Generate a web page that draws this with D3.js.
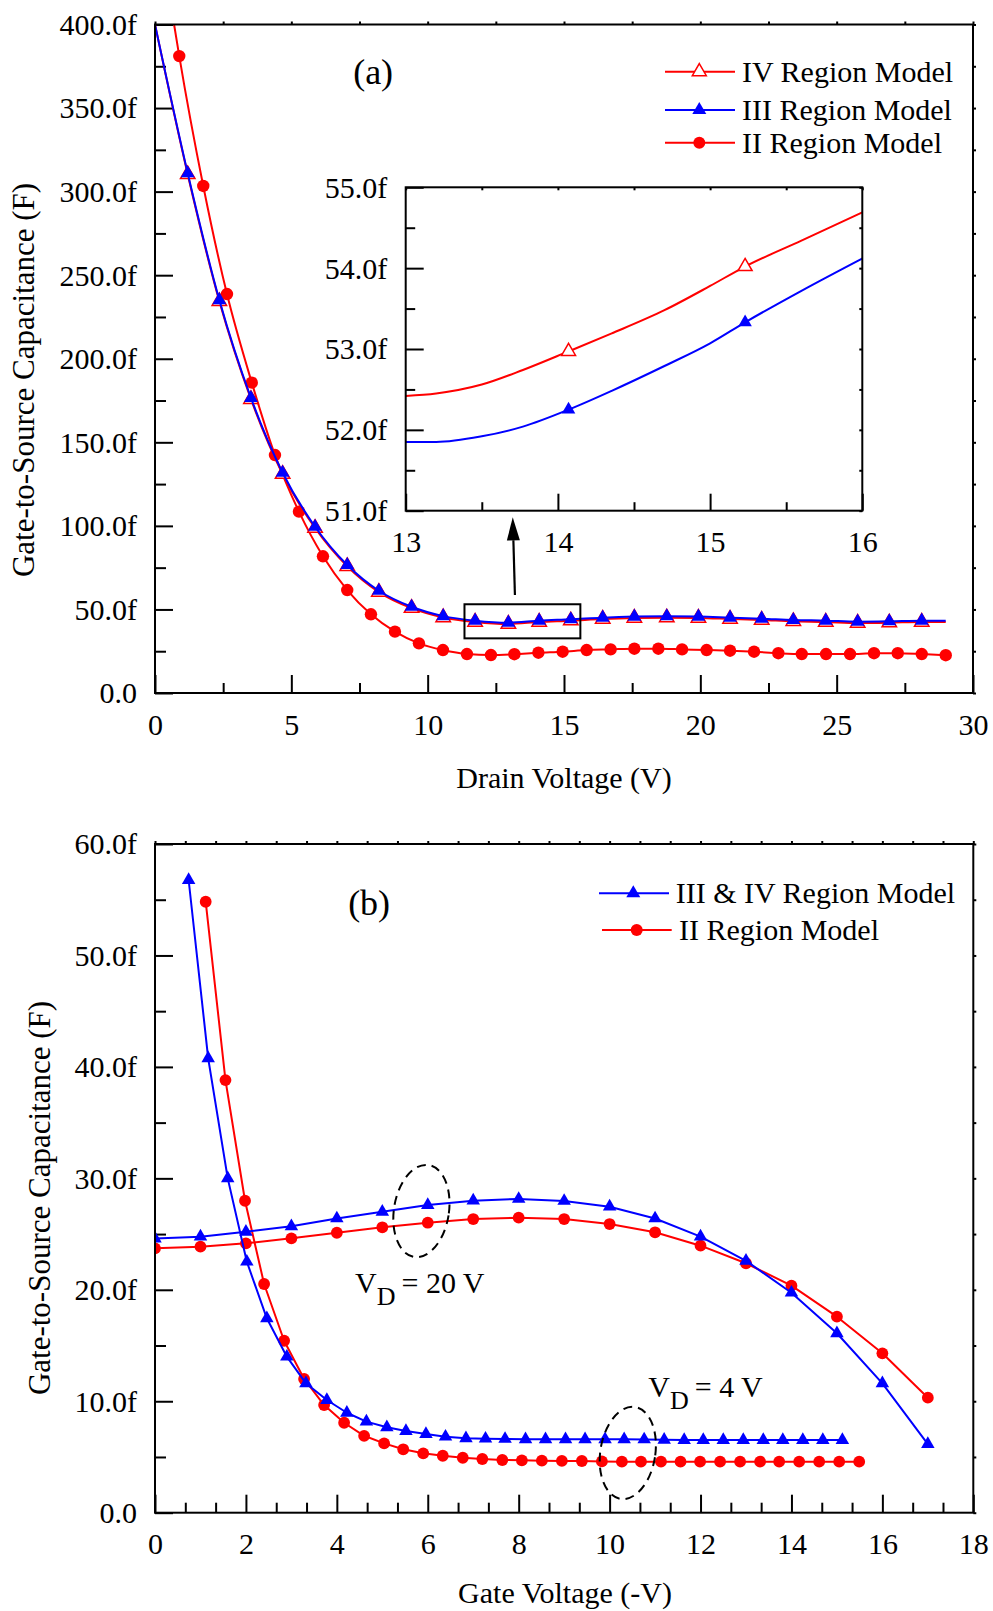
<!DOCTYPE html>
<html>
<head>
<meta charset="utf-8">
<script src="https://cdn.jsdelivr.net/npm/d3@7"></script>
<style>
  html, body { margin: 0; padding: 0; background: #fff; }
  svg { display: block; }
</style>
</head>
<body>
<svg id="fig" width="993" height="1611"></svg>
<script>
// ---------- Panel (a): Cgs versus drain voltage ----------
// II Region Model (red, filled circles)
const aIIx = [0.70, 0.89, 1.77, 2.64, 3.55, 4.40, 5.28, 6.16, 7.05, 7.92, 8.80, 9.68, 10.56, 11.44,
  12.32, 13.18, 14.06, 14.95, 15.83, 16.71, 17.58, 18.46, 19.33, 20.23, 21.09, 21.97, 22.86,
  23.72, 24.61, 25.49, 26.37, 27.24, 28.12, 29.0];
const aIIy = [400, 381.1, 303.4, 238.7, 185.7, 142.4, 108.5, 81.8, 61.6, 47.1, 36.7, 29.7, 25.7,
  23.3, 22.7, 23.2, 24.1, 24.7, 25.7, 26.1, 26.5, 26.5, 26.1, 25.7, 25.3, 24.7, 23.8, 23.3, 23.3,
  23.3, 23.8, 23.8, 23.3, 22.6];

// III and IV Region Models share the same sweep points
const aIIIx = [0, 1.20, 2.36, 3.52, 4.68, 5.87, 7.05, 8.21, 9.41, 10.57, 11.74, 12.96, 14.09, 15.25,
  16.42, 17.58, 18.77, 19.93, 21.09, 22.25, 23.41, 24.60, 25.77, 26.93, 28.12, 29.0];
const aIIIy = [400, 311.0, 235.1, 176.5, 131.8, 99.5, 76.6, 61.2, 51.6, 46.0, 43.3, 42.1, 43.3, 44.1,
  45.1, 45.7, 45.9, 45.7, 45.1, 44.5, 43.7, 43.3, 42.7, 42.9, 43.3, 43.3];
const aIVy = [400, 310.3, 234.4, 175.8, 131.0, 98.7, 75.8, 60.4, 50.8, 45.2, 42.5, 41.3, 42.5, 43.3,
  44.3, 44.9, 45.1, 44.9, 44.3, 43.7, 42.9, 42.5, 41.9, 42.1, 42.5, 42.5];

// Inset: zoom on 13 V .. 16 V
const insetX = [13.0, 13.2, 13.5, 13.77, 14.07, 14.35, 14.7, 15.0, 15.23, 15.6, 16.0];
const insetIV = [52.42, 52.45, 52.56, 52.74, 52.97, 53.19, 53.48, 53.78, 54.02, 54.34, 54.69];
const insetIII = [51.85, 51.85, 51.92, 52.04, 52.25, 52.48, 52.79, 53.07, 53.33, 53.72, 54.12];
const insetMarkedX = [14.07, 15.23];

// ---------- Panel (b): Cgs versus gate voltage ----------
// V_D = 4 V
const b4IIIx = [0.74, 1.17, 1.60, 2.02, 2.46, 2.90, 3.32, 3.78, 4.22, 4.65, 5.10, 5.52, 5.96, 6.39,
  6.84, 7.27, 7.70, 8.15, 8.59, 9.03, 9.46, 9.90, 10.32, 10.76, 11.20, 11.64, 12.06, 12.50, 12.94,
  13.38, 13.81, 14.25, 14.69, 15.12];
const b4IIIy = [56.77, 40.77, 30.0, 22.52, 17.44, 14.0, 11.61, 10.11, 8.97, 8.17, 7.66, 7.33, 7.06,
  6.82, 6.68, 6.64, 6.62, 6.59, 6.59, 6.59, 6.59, 6.59, 6.59, 6.57, 6.54, 6.52, 6.52, 6.52, 6.52,
  6.52, 6.52, 6.52, 6.52, 6.52];
const b4IIx = [1.115, 1.55, 1.98, 2.40, 2.84, 3.28, 3.72, 4.16, 4.60, 5.04, 5.46, 5.90, 6.33, 6.77,
  7.20, 7.64, 8.07, 8.51, 8.95, 9.39, 9.83, 10.27, 10.69, 11.13, 11.56, 11.99, 12.43, 12.87, 13.31,
  13.73, 14.17, 14.61, 15.05, 15.49];
const b4IIy = [54.82, 38.82, 27.99, 20.52, 15.43, 12.0, 9.66, 8.07, 6.90, 6.22, 5.69, 5.33, 5.11,
  4.93, 4.82, 4.73, 4.70, 4.67, 4.65, 4.64, 4.60, 4.58, 4.58, 4.58, 4.58, 4.58, 4.58, 4.58, 4.58,
  4.58, 4.58, 4.58, 4.58, 4.58];
// V_D = 20 V
const b20x = [0, 1, 2, 3, 4, 5, 6, 7, 8, 9, 10, 11, 12, 13, 14, 15, 16, 17];
const b20IIIy = [24.6, 24.77, 25.2, 25.7, 26.4, 27.0, 27.6, 28.0, 28.15, 27.97, 27.46, 26.4, 24.77,
  22.6, 19.74, 16.1, 11.6, 6.16];
const b20IIy = [23.72, 23.87, 24.17, 24.62, 25.12, 25.61, 26.02, 26.35, 26.47, 26.35, 25.9, 25.16,
  23.96, 22.38, 20.37, 17.59, 14.3, 10.32];

// ---------- Tick values ----------
const aXMajor = [0, 5, 10, 15, 20, 25, 30];
const aXMinor = [2.5, 7.5, 12.5, 17.5, 22.5, 27.5];
const aYMajor = [0, 50, 100, 150, 200, 250, 300, 350, 400];
const aYMinor = [25, 75, 125, 175, 225, 275, 325, 375];
const iXMajor = [13, 14, 15, 16];
const iXMinor = [13.5, 14.5, 15.5];
const iYMajor = [51, 52, 53, 54, 55];
const iYMinor = [51.5, 52.5, 53.5, 54.5];
const bXMajor = [0, 2, 4, 6, 8, 10, 12, 14, 16, 18];
const bXMinor = d3.range(0, 18, 2).flatMap(v => [v + 2 / 3, v + 4 / 3]);
const bYMajor = [0, 10, 20, 30, 40, 50, 60];
const bYMinor = [5, 15, 25, 35, 45, 55];

// ---------- Styling ----------
const FONT = "'Liberation Serif','Times New Roman',Times,serif";
const RED = "#ff0000", BLUE = "#0000ff";
const fmtF = v => v === 0 ? "0.0" : v.toFixed(1) + "f";

const svg = d3.select("#fig");
svg.append("rect").attr("width", 993).attr("height", 1611).attr("fill", "#fff");

const xa = d3.scaleLinear().domain([0, 30]).range([155, 973]);
const ya = d3.scaleLinear().domain([0, 400]).range([693, 24.5]);
const xi = d3.scaleLinear().domain([13, 16]).range([405.7, 862.3]);
const yi = d3.scaleLinear().domain([51, 55]).range([510.7, 187.3]);
const xb = d3.scaleLinear().domain([0, 18]).range([155, 973.3]);
const yb = d3.scaleLinear().domain([0, 60]).range([1512.7, 844]);

function styleAxis(sel) {
  sel.select(".domain").remove();
  sel.attr("font-family", null).attr("font-size", null);
  sel.selectAll("line").attr("stroke", "#000").attr("stroke-width", 2);
  sel.selectAll("text").attr("font-family", FONT).attr("font-size", 30).attr("fill", "#000");
}

// Origin-style frame: long inward ticks on bottom/left with labels, short ticks on top/right
function drawAxes(g, x, y, c) {
  const [L, R] = x.range(), [B, T] = y.range();
  if (c.fill) g.append("rect").attr("x", L).attr("y", T).attr("width", R - L).attr("height", B - T).attr("fill", "#fff");
  g.append("g").attr("transform", `translate(0,${B})`)
    .call(d3.axisBottom(x).tickValues(c.xMinor).tickSize(-c.xMinorLen).tickFormat(""))
    .call(styleAxis);
  g.append("g").attr("transform", `translate(0,${B})`)
    .call(d3.axisBottom(x).tickValues(c.xMajor).tickSize(-c.xMajorLen).tickPadding(0).tickFormat(d3.format("d")))
    .call(styleAxis)
    .selectAll("text").attr("y", 41.5).attr("dy", null);
  g.append("g").attr("transform", `translate(${L},0)`)
    .call(d3.axisLeft(y).tickValues(c.yMinor).tickSize(-c.yMinorLen).tickFormat(""))
    .call(styleAxis);
  g.append("g").attr("transform", `translate(${L},0)`)
    .call(d3.axisLeft(y).tickValues(c.yMajor).tickSize(-c.yMajorLen).tickPadding(0).tickFormat(c.yFmt))
    .call(styleAxis)
    .selectAll("text").attr("x", -c.yPad).attr("dy", "0.33em");
  g.append("g").attr("transform", `translate(0,${T})`)
    .call(d3.axisTop(x).tickValues(c.xMajor.concat(c.xMinor)).tickSize(c.edgeTick).tickFormat(""))
    .call(styleAxis);
  g.append("g").attr("transform", `translate(${R},0)`)
    .call(d3.axisRight(y).tickValues(c.yMajor.concat(c.yMinor)).tickSize(c.edgeTick).tickFormat(""))
    .call(styleAxis);
}

function drawFrame(g, x, y) {
  const [L, R] = x.range(), [B, T] = y.range();
  g.append("rect").attr("x", L).attr("y", T).attr("width", R - L).attr("height", B - T)
    .attr("fill", "none").attr("stroke", "#000").attr("stroke-width", 2);
}

function addClip(id, x, y) {
  const [L, R] = x.range(), [B, T] = y.range();
  svg.append("clipPath").attr("id", id).append("rect")
    .attr("x", L).attr("y", T).attr("width", R - L).attr("height", B - T);
}

function drawLine(g, xs, ys, x, y, color, curve) {
  g.append("path").datum(d3.zip(xs, ys))
    .attr("d", d3.line().x(d => x(d[0])).y(d => y(d[1])).curve(curve))
    .attr("fill", "none").attr("stroke", color).attr("stroke-width", 2)
    .attr("stroke-linejoin", "round");
}

function drawTriangles(g, pts, x, y, side, fill, stroke, sw) {
  const area = Math.sqrt(3) / 4 * side * side;
  g.append("g").selectAll("path").data(pts).join("path")
    .attr("d", d3.symbol(d3.symbolTriangle, area))
    .attr("transform", d => `translate(${x(d[0])},${y(d[1])})`)
    .attr("fill", fill).attr("stroke", stroke).attr("stroke-width", sw);
}

function drawCircles(g, pts, x, y, r, color) {
  g.append("g").selectAll("circle").data(pts).join("circle")
    .attr("cx", d => x(d[0])).attr("cy", d => y(d[1])).attr("r", r).attr("fill", color);
}

function legendRow(g, row) {
  g.append("line").attr("x1", row.x1).attr("x2", row.x2).attr("y1", row.y).attr("y2", row.y)
    .attr("stroke", row.color).attr("stroke-width", 2);
  if (row.shape === "circle") {
    g.append("circle").attr("cx", row.xm).attr("cy", row.y).attr("r", 6).attr("fill", row.color);
  } else {
    const side = 14, area = Math.sqrt(3) / 4 * side * side;
    g.append("path").attr("d", d3.symbol(d3.symbolTriangle, area))
      .attr("transform", `translate(${row.xm},${row.y})`)
      .attr("fill", row.shape === "open" ? "#fff" : row.color)
      .attr("stroke", row.color).attr("stroke-width", row.shape === "open" ? 1.5 : 0);
  }
  g.append("text").attr("x", row.tx).attr("y", row.y + 10)
    .attr("font-family", FONT).attr("font-size", 30).attr("fill", "#000").text(row.label);
}

function vdLabel(g, px, py, val) {
  const t = g.append("text").attr("x", px).attr("y", py)
    .attr("font-family", FONT).attr("font-size", 30).attr("fill", "#000");
  t.append("tspan").text("V");
  t.append("tspan").attr("dy", 12).attr("font-size", 26).text("D");
  t.append("tspan").attr("dy", -12).text("\u2009= " + val + " V");
}

// ================= Panel (a) =================
const ga = svg.append("g");
drawAxes(ga, xa, ya, {
  xMajor: aXMajor, xMinor: aXMinor, yMajor: aYMajor, yMinor: aYMinor,
  xMajorLen: 18, xMinorLen: 10, yMajorLen: 18, yMinorLen: 11, yPad: 18, edgeTick: 3, yFmt: fmtF
});
addClip("clipA", xa, ya);
const plotA = ga.append("g").attr("clip-path", "url(#clipA)");

drawLine(plotA, aIIx, aIIy, xa, ya, RED, d3.curveMonotoneX);
drawCircles(plotA, d3.zip(aIIx, aIIy).slice(1), xa, ya, 6.2, RED);
drawLine(plotA, aIIIx, aIVy, xa, ya, RED, d3.curveMonotoneX);
drawTriangles(plotA, d3.zip(aIIIx, aIVy).slice(1, -1), xa, ya, 14.5, "#fff", RED, 1.5);
drawLine(plotA, aIIIx, aIIIy, xa, ya, BLUE, d3.curveMonotoneX);
drawTriangles(plotA, d3.zip(aIIIx, aIIIy).slice(1, -1), xa, ya, 14, BLUE, "none", 0);

// zoom window and arrow pointing to the inset
ga.append("rect")
  .attr("x", xa(11.35)).attr("y", ya(53.1))
  .attr("width", xa(15.6) - xa(11.35)).attr("height", ya(32.7) - ya(53.1))
  .attr("fill", "none").attr("stroke", "#000").attr("stroke-width", 2);
{
  const tail = [xa(13.20), ya(58.6)], tip = [xa(13.12), ya(105.1)];
  const ang = Math.atan2(tip[1] - tail[1], tip[0] - tail[0]);
  const headLen = 23, headW = 6.5;
  const bx = tip[0] - headLen * Math.cos(ang), by = tip[1] - headLen * Math.sin(ang);
  const nx = -Math.sin(ang) * headW, ny = Math.cos(ang) * headW;
  ga.append("line").attr("x1", tail[0]).attr("y1", tail[1]).attr("x2", bx).attr("y2", by)
    .attr("stroke", "#000").attr("stroke-width", 2.2);
  ga.append("path").attr("d", `M${tip[0]},${tip[1]}L${bx + nx},${by + ny}L${bx - nx},${by - ny}Z`)
    .attr("fill", "#000");
}
drawFrame(ga, xa, ya);

ga.append("text").attr("x", xa(8.0)).attr("y", ya(364.5)).attr("text-anchor", "middle")
  .attr("font-family", FONT).attr("font-size", 36).text("(a)");

[
  { y: 71.7, label: "IV Region Model", color: RED, shape: "open" },
  { y: 110, label: "III Region Model", color: BLUE, shape: "filled" },
  { y: 142.7, label: "II Region Model", color: RED, shape: "circle" }
].forEach(r => legendRow(ga, Object.assign({ x1: 665, x2: 735, xm: 699.3, tx: 742 }, r)));

// inset
const gi = svg.append("g");
drawAxes(gi, xi, yi, {
  fill: true, xMajor: iXMajor, xMinor: iXMinor, yMajor: iYMajor, yMinor: iYMinor,
  xMajorLen: 17, xMinorLen: 8.5, yMajorLen: 18, yMinorLen: 9.5, yPad: 18.5, edgeTick: -3,
  yFmt: v => v.toFixed(1) + "f"
});
addClip("clipI", xi, yi);
const plotI = gi.append("g").attr("clip-path", "url(#clipI)");
drawLine(plotI, insetX, insetIV, xi, yi, RED, d3.curveMonotoneX);
drawLine(plotI, insetX, insetIII, xi, yi, BLUE, d3.curveMonotoneX);
drawTriangles(plotI, d3.zip(insetX, insetIV).filter(d => insetMarkedX.includes(d[0])), xi, yi, 14, "#fff", RED, 1.5);
drawTriangles(plotI, d3.zip(insetX, insetIII).filter(d => insetMarkedX.includes(d[0])), xi, yi, 13.5, BLUE, "none", 0);
drawFrame(gi, xi, yi);

// axis titles (a)
svg.append("text").attr("transform", "translate(34,380) rotate(-90)").attr("text-anchor", "middle")
  .attr("font-family", FONT).attr("font-size", 31).text("Gate-to-Source Capacitance (F)");
svg.append("text").attr("x", 564).attr("y", 788).attr("text-anchor", "middle")
  .attr("font-family", FONT).attr("font-size", 30).text("Drain Voltage (V)");

// ================= Panel (b) =================
const gb = svg.append("g");
drawAxes(gb, xb, yb, {
  xMajor: bXMajor, xMinor: bXMinor, yMajor: bYMajor, yMinor: bYMinor,
  xMajorLen: 18, xMinorLen: 10, yMajorLen: 18, yMinorLen: 11, yPad: 18, edgeTick: 3, yFmt: fmtF
});
addClip("clipB", xb, yb);
const plotB = gb.append("g").attr("clip-path", "url(#clipB)");

drawLine(plotB, b20x, b20IIy, xb, yb, RED, d3.curveLinear);
drawCircles(plotB, d3.zip(b20x, b20IIy), xb, yb, 5.9, RED);
drawLine(plotB, b4IIx, b4IIy, xb, yb, RED, d3.curveLinear);
drawCircles(plotB, d3.zip(b4IIx, b4IIy), xb, yb, 5.9, RED);
drawLine(plotB, b20x, b20IIIy, xb, yb, BLUE, d3.curveLinear);
drawTriangles(plotB, d3.zip(b20x, b20IIIy), xb, yb, 13.5, BLUE, "none", 0);
drawLine(plotB, b4IIIx, b4IIIy, xb, yb, BLUE, d3.curveLinear);
drawTriangles(plotB, d3.zip(b4IIIx, b4IIIy), xb, yb, 13.5, BLUE, "none", 0);

// dashed ellipses marking each family of curves
[[5.86, 27.07], [10.40, 5.36]].forEach(c => {
  gb.append("ellipse")
    .attr("transform", `translate(${xb(c[0])},${yb(c[1])}) rotate(9)`)
    .attr("rx", 27.5).attr("ry", 46.5)
    .attr("fill", "none").attr("stroke", "#000").attr("stroke-width", 2)
    .attr("stroke-dasharray", "9,6");
});
vdLabel(gb, xb(4.40), yb(19.7), "20");
vdLabel(gb, xb(10.85), yb(10.41), "4");

drawFrame(gb, xb, yb);

gb.append("text").attr("x", xb(4.71)).attr("y", yb(53.6)).attr("text-anchor", "middle")
  .attr("font-family", FONT).attr("font-size", 36).text("(b)");

[
  { y: 893.3, x1: 599, x2: 669, xm: 633.3, tx: 675.7, label: "III & IV Region Model", color: BLUE, shape: "filled" },
  { y: 930, x1: 602, x2: 671.7, xm: 636.7, tx: 679, label: "II Region Model", color: RED, shape: "circle" }
].forEach(r => legendRow(gb, r));

svg.append("text").attr("transform", "translate(50,1198) rotate(-90)").attr("text-anchor", "middle")
  .attr("font-family", FONT).attr("font-size", 31).text("Gate-to-Source Capacitance (F)");
svg.append("text").attr("x", 565).attr("y", 1603).attr("text-anchor", "middle")
  .attr("font-family", FONT).attr("font-size", 30).text("Gate Voltage (-V)");
</script>
</body>
</html>
